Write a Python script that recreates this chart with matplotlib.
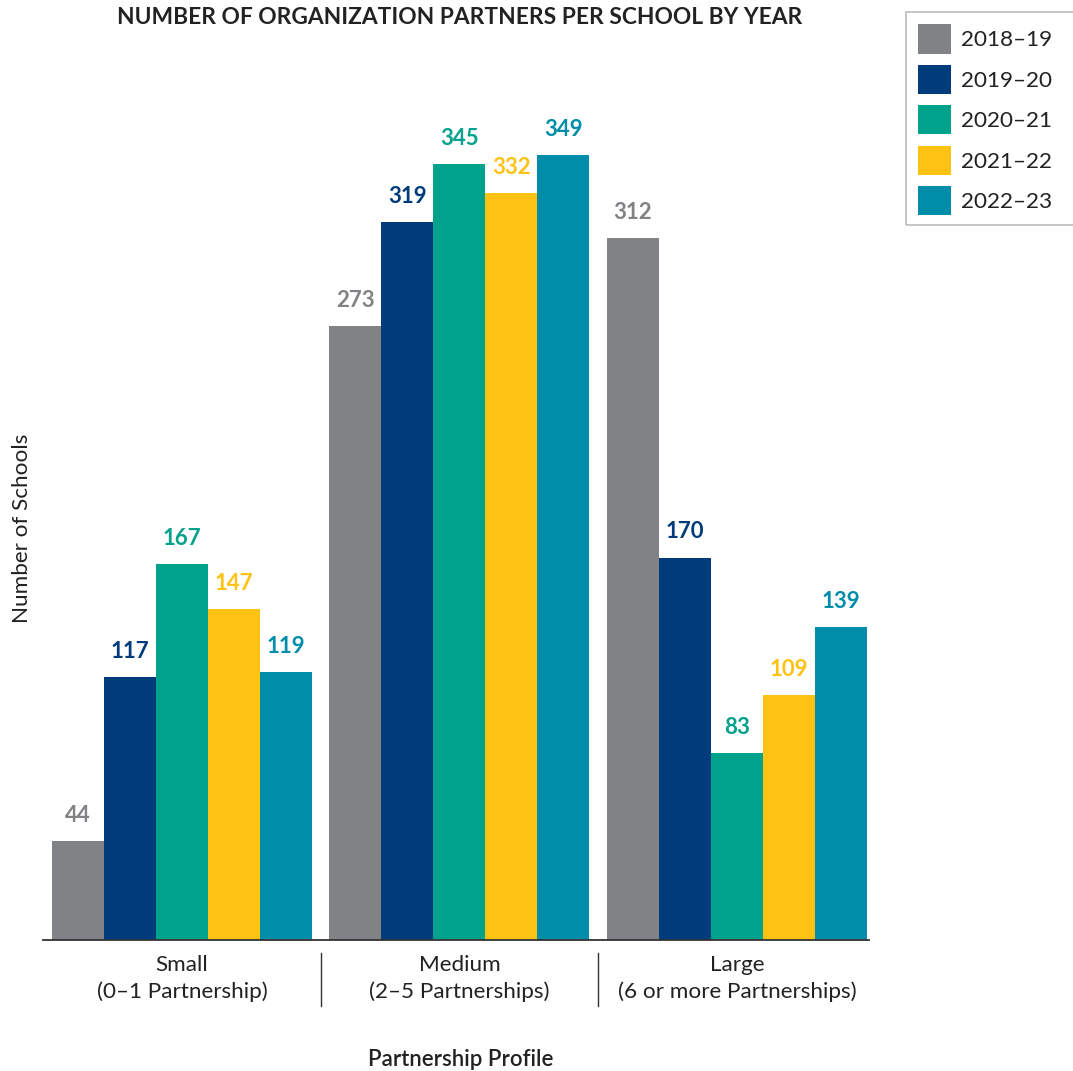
import matplotlib
matplotlib.use("Agg")
import matplotlib.pyplot as plt
from matplotlib.patches import Rectangle
import numpy as np

plt.rcParams['font.family'] = ['Lato', 'DejaVu Sans']

categories = ["Small\n(0\u20131 Partnership)", "Medium\n(2\u20135 Partnerships)", "Large\n(6 or more Partnerships)"]
years = ["2018\u201319", "2019\u201320", "2020\u201321", "2021\u201322", "2022\u201323"]
values = {
    "2018\u201319": [44, 273, 312],
    "2019\u201320": [117, 319, 170],
    "2020\u201321": [167, 345, 83],
    "2021\u201322": [147, 332, 109],
    "2022\u201323": [119, 349, 139],
}
colors = ["#818285", "#003B7B", "#00A28C", "#FDC212", "#008DAA"]

W, H = 1073, 1071
fig = plt.figure(figsize=(W / 100, H / 100), dpi=100)
ax = fig.add_axes([43 / W, (H - 940) / H, (869 - 43) / W, 900 / H])

x = np.arange(len(categories))
bw = 0.1874
for i, (yr, col) in enumerate(zip(years, colors)):
    pos = x + (i - 2) * bw
    ax.bar(pos, values[yr], width=bw, color=col, label=yr, zorder=2)
    for px, v in zip(pos, values[yr]):
        ax.annotate(str(v), (px, v), xytext=(0, 18.5), textcoords="offset points",
                    ha="center", va="center", fontsize=16, fontweight="bold", color=col)

ax.set_xlim(-0.501, 2.476)
ax.set_ylim(0, 400)
for s in ["top", "right", "left"]:
    ax.spines[s].set_visible(False)
ax.spines["bottom"].set_color("#333333")
ax.spines["bottom"].set_linewidth(1.3)
ax.set_yticks([])
ax.set_xticks(x)
ax.set_xticklabels(categories, fontsize=16.2, color="#222222", linespacing=1.42)
ax.tick_params(axis="x", length=0, pad=10.5)

# separators between category labels
for sx in [0.5, 1.5]:
    ax.plot([sx, sx], [-0.0145, -0.073], transform=ax.get_xaxis_transform(),
            color="#333333", lw=1.0, clip_on=False)

fig.text(22 / W, 1 - 528 / H, "Number of Schools", rotation=90, ha="center", va="center",
         fontsize=16.2, color="#222222")
fig.text(461 / W, 1 - 1060 / H, "Partnership Profile", ha="center", va="center",
         fontsize=16, color="#222222", fontweight="semibold")
fig.text(460 / W, 1 - 18 / H, "NUMBER OF ORGANIZATION PARTNERS PER SCHOOL BY YEAR",
         ha="center", va="center", fontsize=16.4, fontweight="bold", color="#222222")

leg = fig.legend(loc="upper left", bbox_to_anchor=(906 / W, 1 - 12 / H), fontsize=16.2,
                 frameon=False,
                 handlelength=1.44, handleheight=1.62, handletextpad=0.45,
                 labelspacing=0.5, borderpad=0.55, borderaxespad=0)
for t in leg.get_texts():
    t.set_color("#222222")

# legend box runs past the right edge of the figure
fig.patches.append(Rectangle((906 / W, 1 - 225 / H), 200 / W, 213 / H,
                             transform=fig.transFigure, fill=False,
                             edgecolor="#BBBBBB", lw=1.2))

fig.savefig("out.png", dpi=100, facecolor="white")
